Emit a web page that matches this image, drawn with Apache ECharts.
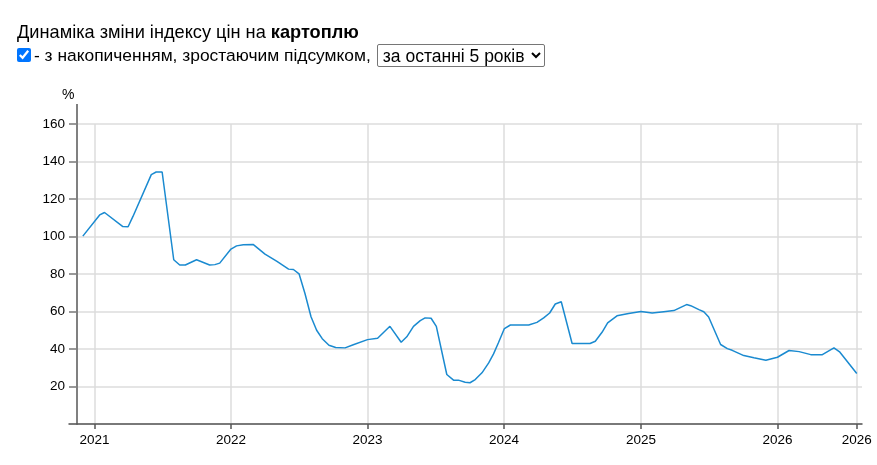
<!DOCTYPE html>
<html lang="uk">
<head>
<meta charset="UTF-8">
<title>Динаміка зміни індексу цін на картоплю</title>
<script src="https://cdn.jsdelivr.net/npm/echarts@6/dist/echarts.min.js"></script>
<style>
    body { margin: 0; font-family: Arial, "Liberation Sans", sans-serif; color: #000; }
    #chart { position: absolute; left: 0; top: 0; width: 877px; height: 465px; }
    #head { position: absolute; left: 17px; top: 22px; z-index: 2; }
    #line1 { font-size: 18.2px; line-height: 21px; }
    #line2 { margin-top: 1px; height: 23px; display: flex; align-items: center; }
    #line2 input { margin: 0 3px 0 0; width: 14px; height: 14px; position: relative; top: -1px; }
    #line2 span { font-size: 17.4px; }
    #line2 select { font-family: inherit; font-size: 17.5px; width: 168px; height: 23px; margin-left: 6px; padding: 0 1px; background: #fff; border: 1px solid #767676; border-radius: 2px; color: #000; }
</style>
</head>
<body>
<div id="head">
    <div id="line1">Динаміка зміни індексу цін на <b>картоплю</b></div>
    <div id="line2">
        <input type="checkbox" checked><span>- з накопиченням, зростаючим підсумком,</span>
        <select><option>за останні 5 років</option></select>
    </div>
</div>
<div id="chart"></div>
<script>
    // точки кривої (дата -> індекс, %)
    const dates = [
        '2020-12-01', '2021-01-15', '2021-01-28', '2021-03-18', '2021-04-01', '2021-04-14',
        '2021-06-02', '2021-06-15', '2021-07-01', '2021-08-01', '2021-08-17', '2021-09-01',
        '2021-10-01', '2021-11-05', '2021-11-19', '2021-12-02', '2022-01-01', '2022-01-16',
        '2022-02-03', '2022-03-02', '2022-04-02', '2022-05-04', '2022-06-04', '2022-06-17',
        '2022-07-02', '2022-07-18', '2022-08-03', '2022-08-18', '2022-09-02', '2022-09-20',
        '2022-10-08', '2022-11-02', '2022-11-24', '2023-01-01', '2023-01-28', '2023-03-02',
        '2023-04-01', '2023-04-16', '2023-05-04', '2023-05-22', '2023-06-04', '2023-06-20',
        '2023-07-04', '2023-08-01', '2023-08-19', '2023-09-01', '2023-09-19', '2023-10-02',
        '2023-10-16', '2023-11-03', '2023-11-21', '2023-12-04', '2023-12-17', '2024-01-02',
        '2024-01-18', '2024-03-07', '2024-03-29', '2024-04-16', '2024-05-02', '2024-05-17',
        '2024-06-02', '2024-07-01', '2024-08-18', '2024-09-01', '2024-09-19', '2024-10-04',
        '2024-10-29', '2024-11-29', '2025-01-01', '2025-01-31', '2025-03-03', '2025-03-30',
        '2025-05-03', '2025-05-14', '2025-06-05', '2025-06-18', '2025-07-01', '2025-08-02',
        '2025-08-20', '2025-09-02', '2025-10-03', '2025-10-30', '2025-12-01', '2026-01-01',
        '2026-02-01', '2026-02-28', '2026-03-31', '2026-05-01', '2026-06-01', '2026-06-17',
        '2026-08-01'
    ];
    const values = [
        100.2, 111.5, 112.8, 105.3, 105.2, 110.7,
        133.0, 134.4, 134.4, 87.6, 84.8, 84.8,
        87.6, 84.8, 85.0, 85.8, 93.3, 95.0,
        95.6, 95.7, 90.6, 86.7, 82.6, 82.4,
        80.1, 69.5, 57.2, 50.0, 45.5, 42.0,
        40.8, 40.6, 42.3, 45.0, 45.7, 52.1,
        43.6, 46.5, 52.1, 55.1, 56.6, 56.4,
        52.1, 26.4, 23.4, 23.4, 22.3, 22.0,
        23.7, 27.3, 32.6, 37.4, 43.3, 50.9,
        52.8, 52.8, 54.2, 56.6, 59.2, 64.0,
        65.2, 42.9, 42.9, 44.1, 48.9, 53.9,
        57.7, 58.9, 60.0, 59.2, 59.9, 60.5,
        63.7, 63.1, 61.0, 59.9, 57.1, 42.4,
        40.2, 39.3, 36.5, 35.3, 34.0, 35.6,
        39.2, 38.6, 37.0, 37.0, 40.6, 38.3,
        26.9
    ];
    // підписи осі X: початки років + остання дата
    const xTicks = ['2021-01-01', '2022-01-01', '2023-01-01', '2024-01-01', '2025-01-01', '2026-01-01', '2026-08-01'];

    const chart = echarts.init(document.getElementById('chart'));
    const ts = d => +new Date(d + 'T00:00:00');
    const tickTimes = xTicks.map(ts);

    chart.setOption({
        animation: false,
        textStyle: { fontFamily: 'Arial, "Liberation Sans", sans-serif' },
        title: {
            text: '%', left: 62, top: 88, padding: 0,
            textStyle: { fontSize: 14, fontWeight: 'normal', color: '#000' }
        },
        grid: { left: 69, right: 15, top: 124, bottom: 41 },
        xAxis: {
            type: 'value',
            min: ts('2020-10-25'),
            max: ts('2026-08-15'),
            axisLine: { lineStyle: { color: '#555', width: 1.5 } },
            axisTick: { customValues: tickTimes, length: 5, lineStyle: { color: '#555', width: 1.5 } },
            axisLabel: {
                customValues: tickTimes, margin: 9, fontSize: 13.5, color: '#000',
                formatter: v => String(new Date(v).getFullYear())
            },
            splitLine: { show: true, lineStyle: { color: '#ddd', width: 1.5 } }
        },
        yAxis: {
            type: 'value', min: 0, max: 160, interval: 20, offset: -8,
            axisLine: { show: true, lineStyle: { color: '#808080', width: 2 } },
            axisTick: { show: true, length: 8, lineStyle: { color: '#808080', width: 1.5 } },
            axisLabel: { showMinLabel: false, margin: 12, fontSize: 13.5, color: '#000' },
            splitLine: { lineStyle: { color: '#ddd', width: 1.5 } }
        },
        graphic: [{
            type: 'line', z: 10,
            shape: { x1: 77, y1: 104, x2: 77, y2: 124 },
            style: { stroke: '#808080', lineWidth: 2 }
        }],
        series: [{
            type: 'line',
            showSymbol: false,
            data: dates.map((d, i) => [ts(d), values[i]]),
            lineStyle: { color: '#1a8ad0', width: 1.5 },
            itemStyle: { color: '#1a8ad0' }
        }]
    });
</script>
</body>
</html>
